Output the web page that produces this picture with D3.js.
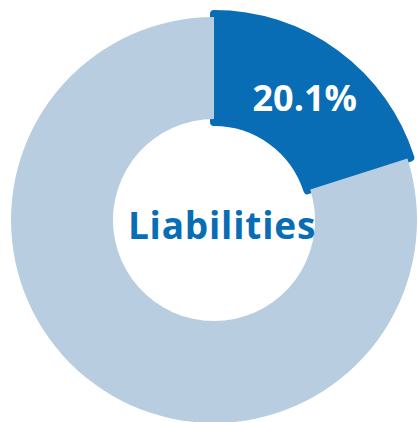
<!DOCTYPE html>
<html>
<head>
<meta charset="utf-8">
<script src="https://cdn.jsdelivr.net/npm/d3@7"></script>
<style>
  html, body { margin: 0; padding: 0; background: #fff; }
  svg { display: block; }
</style>
</head>
<body>
<svg id="chart" width="418" height="422"></svg>
<script>
// donut data
var categories = ['Liabilities', 'Other'];
var values = [20.1, 79.9];
var centerLabel = 'Liabilities';

var width = 418, height = 422;
var cx = 214, cy = 220;
var colors = ['#086db5', '#b8cde0'];

var svg = d3.select('#chart');
var g = svg.append('g').attr('transform', 'translate(' + cx + ',' + cy + ')');

var pie = d3.pie().sort(null).value(function(d) { return d; });
var slices = pie(values);

// highlighted slice sits a bit proud of the ring
var bigArc = d3.arc().innerRadius(98).outerRadius(206);
var ringArc = d3.arc().innerRadius(101).outerRadius(203);

g.append('path')
    .attr('d', bigArc(slices[0]))
    .attr('fill', colors[0])
    .attr('stroke', colors[0])
    .attr('stroke-width', 8)
    .attr('stroke-linejoin', 'round');

g.append('path')
    .attr('d', ringArc(slices[1]))
    .attr('fill', colors[1]);

var c = bigArc.centroid(slices[0]);
g.append('text')
    .attr('x', c[0] + 1)
    .attr('y', c[1] + 14)
    .attr('text-anchor', 'middle')
    .attr('font-family', 'Open Sans, sans-serif')
    .attr('font-weight', 700)
    .attr('font-size', 36)
    .attr('fill', '#fff')
    .text(values[0].toFixed(1) + '%');

g.append('text')
    .attr('x', 8)
    .attr('y', 19)
    .attr('text-anchor', 'middle')
    .attr('font-family', 'Open Sans, sans-serif')
    .attr('font-weight', 700)
    .attr('font-size', 37)
    .attr('letter-spacing', 0.8)
    .attr('fill', colors[0])
    .text(centerLabel);
</script>
</body>
</html>
